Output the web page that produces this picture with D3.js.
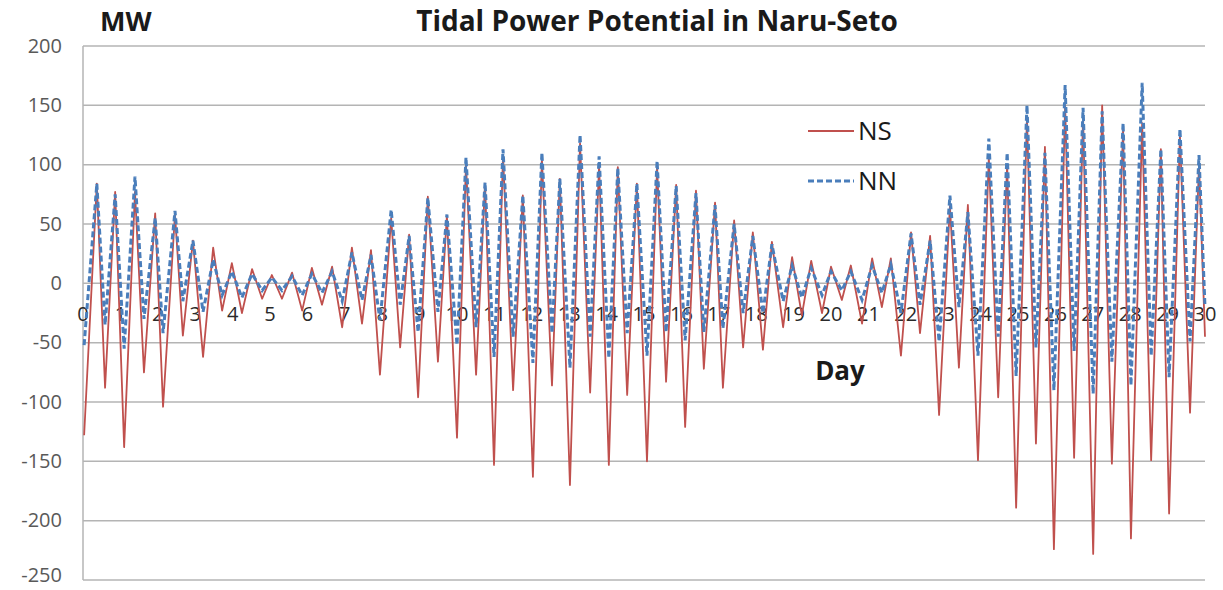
<!DOCTYPE html>
<html>
<head>
<meta charset="utf-8">
<script src="https://cdn.jsdelivr.net/npm/d3@7"></script>
<style>
    body { margin: 0; background: #fff; }
    svg { display: block; font-family: "Open Sans", "Liberation Sans", sans-serif; }
</style>
</head>
<body>
<svg width="1223" height="590"></svg>
<script>
// Day of each ebb (negative) peak; last entry is the end of the record
const negDays = [0.03, 0.59, 1.10, 1.63, 2.14, 2.67, 3.21, 3.72, 4.25, 4.79, 5.32, 5.86, 6.39, 6.93,
    7.46, 7.94, 8.48, 8.96, 9.49, 10.00, 10.51, 10.99, 11.50, 12.03, 12.54, 13.02, 13.56, 14.06, 14.55,
    15.08, 15.59, 16.10, 16.60, 17.11, 17.65, 18.18, 18.72, 19.22, 19.76, 20.29, 20.83, 21.36, 21.87,
    22.38, 22.89, 23.42, 23.93, 24.47, 24.95, 25.48, 25.96, 26.50, 27.01, 27.51, 28.02, 28.56, 29.04, 29.60, 30.0];

// Day of each flood (positive) peak
const posDays = [0.37, 0.86, 1.39, 1.93, 2.46, 2.94, 3.48, 3.98, 4.52, 5.05, 5.59, 6.12, 6.66, 7.19,
    7.70, 8.24, 8.72, 9.22, 9.73, 10.24, 10.75, 11.23, 11.76, 12.27, 12.75, 13.29, 13.80, 14.30, 14.81,
    15.35, 15.86, 16.39, 16.90, 17.41, 17.91, 18.42, 18.96, 19.47, 20.00, 20.53, 21.10, 21.60, 22.14,
    22.65, 23.18, 23.66, 24.22, 24.71, 25.24, 25.72, 26.26, 26.74, 27.25, 27.81, 28.32, 28.82, 29.33, 29.84];

// NS series (MW)
const nsNeg = [-128, -88, -138, -75, -104, -44, -62, -23, -25, -13, -13, -23, -18, -37,
    -34, -77, -54, -96, -66, -130, -77, -153, -90, -163, -86, -170, -92, -153, -94,
    -150, -83, -121, -72, -88, -54, -56, -37, -27, -25, -14, -34, -20, -61,
    -42, -111, -71, -149, -96, -189, -135, -224, -147, -228, -152, -215, -149, -194, -109, -45];
const nsPos = [84, 77, 77, 59, 58, 36, 30, 17, 12, 7, 9, 13, 14, 30,
    28, 55, 41, 73, 57, 100, 84, 108, 74, 105, 88, 118, 100, 98, 84,
    98, 83, 78, 68, 53, 43, 35, 22, 19, 14, 15, 21, 21, 43,
    40, 65, 66, 106, 100, 140, 115, 150, 140, 150, 130, 135, 113, 125, 100];

// NN series (MW)
const nnNeg = [-52, -35, -55, -30, -42, -15, -24, -10, -12, -6, -6, -10, -8, -15,
    -14, -31, -18, -41, -24, -52, -37, -62, -45, -67, -42, -71, -45, -63, -42,
    -61, -41, -48, -41, -38, -25, -25, -15, -12, -10, -6, -14, -8, -25,
    -18, -49, -20, -61, -45, -78, -54, -90, -57, -93, -66, -86, -61, -79, -49, -20];
const nnPos = [84, 75, 90, 55, 61, 36, 20, 10, 8, 5, 6, 8, 10, 26,
    24, 62, 40, 72, 58, 106, 85, 113, 74, 110, 88, 125, 107, 97, 84,
    103, 82, 76, 66, 50, 40, 33, 15, 13, 10, 10, 15, 16, 42,
    36, 74, 60, 122, 110, 150, 110, 167, 148, 145, 135, 169, 113, 130, 108];

const yTicks = [200, 150, 100, 50, 0, -50, -100, -150, -200, -250];
const dayTicks = d3.range(0, 31);

// Merge the peaks of one series into a single time-ordered list
function series(neg, pos) {
    const pts = [];
    negDays.forEach((d, i) => {
        pts.push({ day: d, mw: neg[i] });
        if (i < posDays.length) pts.push({ day: posDays[i], mw: pos[i] });
    });
    return pts;
}
const ns = series(nsNeg, nsPos);
const nn = series(nnNeg, nnPos);

const svg = d3.select("svg");

const x = d3.scaleLinear().domain([0, 30]).range([83, 1205]);
const y = d3.scaleLinear().domain([-250, 200]).range([580, 46]);

// Horizontal grid lines
svg.append("g")
    .selectAll("line")
    .data(yTicks)
    .enter().append("line")
    .attr("x1", x(0))
    .attr("x2", x(30))
    .attr("y1", d => y(d))
    .attr("y2", d => y(d))
    .attr("stroke", "#b4b4b4")
    .attr("stroke-width", 1.5);

// Vertical axis line
svg.append("line")
    .attr("x1", x(0)).attr("x2", x(0))
    .attr("y1", y(200)).attr("y2", y(-250))
    .attr("stroke", "#b4b4b4")
    .attr("stroke-width", 1.5);

// Y tick labels (bottom one nudged up so it stays inside the frame)
svg.append("g")
    .selectAll("text")
    .data(yTicks)
    .enter().append("text")
    .attr("x", 62)
    .attr("y", d => Math.min(y(d), 575))
    .attr("dy", "0.34em")
    .attr("text-anchor", "end")
    .attr("font-size", 20)
    .attr("fill", "#595959")
    .text(d => d);

// Day labels sit on the zero line, under the curves
svg.append("g")
    .selectAll("text")
    .data(dayTicks)
    .enter().append("text")
    .attr("x", d => x(d))
    .attr("y", y(0) + 38)
    .attr("text-anchor", "middle")
    .attr("font-size", 20)
    .attr("fill", "#2a2a2a")
    .text(d => d);

const line = d3.line()
    .x(d => x(d.day))
    .y(d => y(d.mw));

svg.append("path")
    .datum(ns)
    .attr("d", line)
    .attr("fill", "none")
    .attr("stroke", "#c0504d")
    .attr("stroke-width", 1.8)
    .attr("stroke-linejoin", "round");

svg.append("path")
    .datum(nn)
    .attr("d", line)
    .attr("fill", "none")
    .attr("stroke", "#4a7ebb")
    .attr("stroke-width", 3)
    .attr("stroke-dasharray", "6,3");

// Titles
svg.append("text")
    .attr("x", 657).attr("y", 31)
    .attr("text-anchor", "middle")
    .attr("font-size", 28)
    .attr("font-weight", "bold")
    .attr("fill", "#1a1a1a")
    .text("Tidal Power Potential in Naru-Seto");

svg.append("text")
    .attr("x", 100).attr("y", 31)
    .attr("font-size", 27)
    .attr("font-weight", "bold")
    .attr("fill", "#1a1a1a")
    .text("MW");

svg.append("text")
    .attr("x", 840).attr("y", 380)
    .attr("text-anchor", "middle")
    .attr("font-size", 26)
    .attr("font-weight", "bold")
    .attr("fill", "#1a1a1a")
    .text("Day");

// Legend
const legendItems = [
    { name: "NS", color: "#c0504d", dash: null, width: 2 },
    { name: "NN", color: "#4a7ebb", dash: "6,3", width: 3 }
];
const legend = svg.selectAll(".legend")
    .data(legendItems)
    .enter().append("g")
    .attr("class", "legend")
    .attr("transform", (d, i) => "translate(808," + (131 + i * 50) + ")");

legend.append("line")
    .attr("x1", 0).attr("x2", 46)
    .attr("stroke", d => d.color)
    .attr("stroke-width", d => d.width)
    .attr("stroke-dasharray", d => d.dash);

legend.append("text")
    .attr("x", 50)
    .attr("dy", "0.36em")
    .attr("font-size", 26)
    .attr("fill", "#1a1a1a")
    .text(d => d.name);
</script>
</body>
</html>
